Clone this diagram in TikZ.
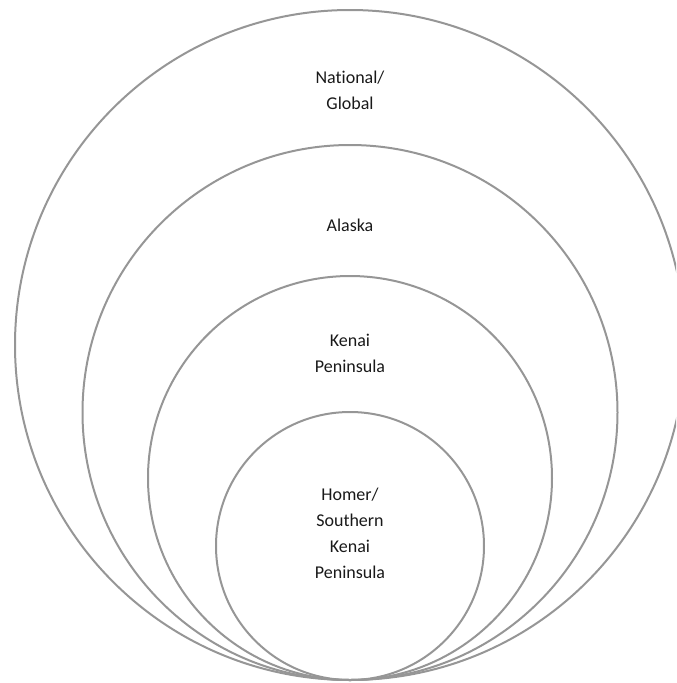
\documentclass[tikz,border=0pt]{standalone}
\usepackage{fontspec}
\setmainfont{Carlito}[Ligatures=CommonOff]
\usetikzlibrary{positioning}
\definecolor{ringGray}{RGB}{150,150,150}
\definecolor{textBlack}{gray}{0.1}

\begin{document}
\begin{tikzpicture}[x=0.75pt, y=-0.75pt,
    ring/.style={draw=ringGray, line width=1.5pt},
    ringtext/.style={align=center, text=textBlack, font=\fontsize{13.5}{19.5}\selectfont}]
    % Frame
    \useasboundingbox (0,0) rectangle (676,683);
    \clip (0,0) rectangle (676,683);

    % Rings, all touching at the bottom
    \coordinate (base) at (350,680);
    \foreach \r in {335, 267.5, 202, 134}
        \draw[ring] (base) ++(0,-\r) circle (\r);

    % Labels
    \node[ringtext] (national) at (350,90) {National/\\Global};
    \node[ringtext] (alaska) at (350,225) {Alaska};
    \node[ringtext] (kenai) at (350,353) {Kenai\\Peninsula};
    \node[ringtext] (homer) at (350,533) {Homer/\\Southern\\Kenai\\Peninsula};
\end{tikzpicture}
\end{document}
